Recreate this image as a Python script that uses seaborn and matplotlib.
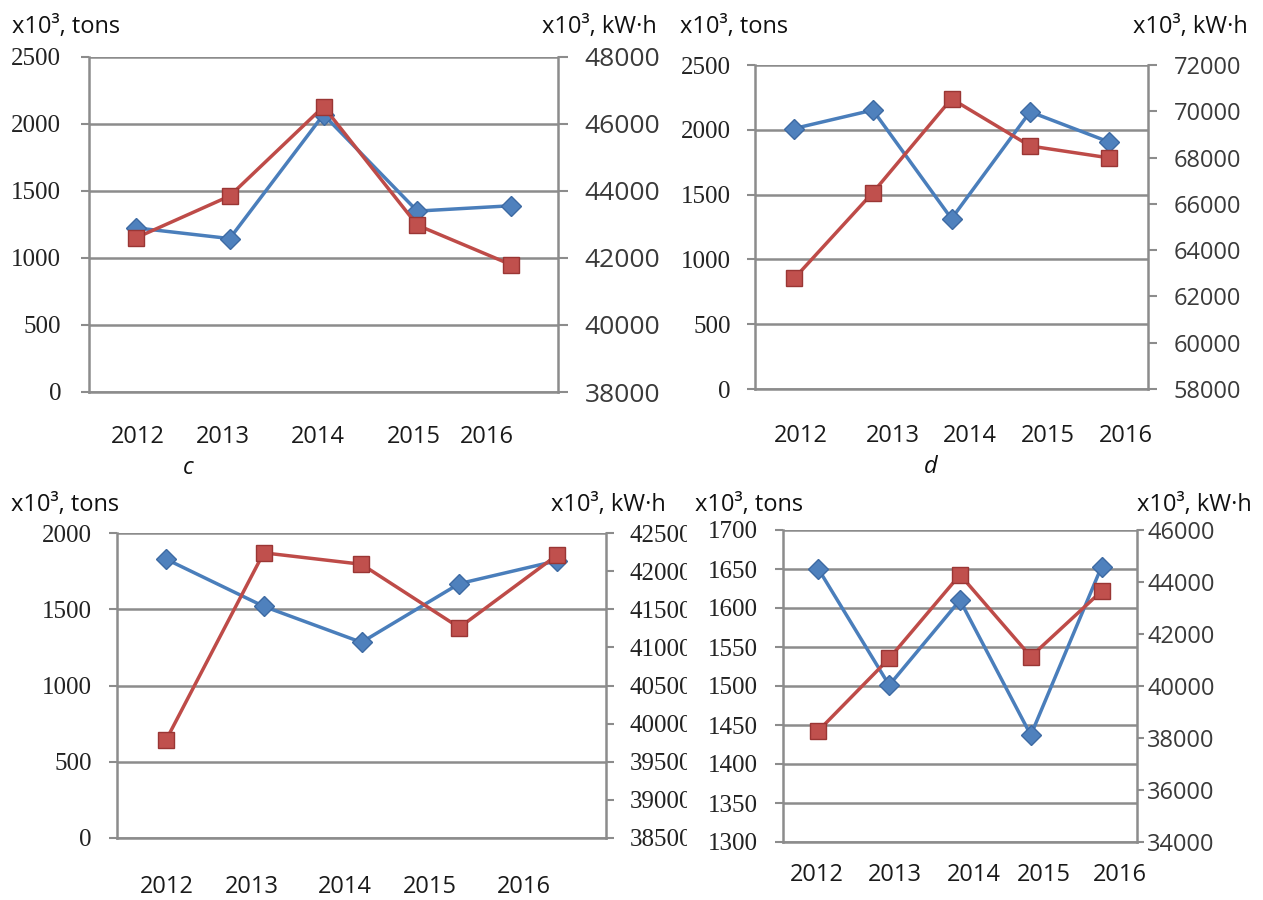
import matplotlib
matplotlib.use("Agg")
import matplotlib.pyplot as plt
import seaborn as sns
import pandas as pd
from matplotlib.transforms import Bbox, TransformedBbox

# ---------------- data ----------------
years = ["2012", "2013", "2014", "2015", "2016"]

a_tons = [1225, 1145, 2070, 1350, 1390]
a_kwh = [42600, 43850, 46520, 42980, 41800]

b_tons = [2010, 2152, 1314, 2139, 1907]
b_kwh = [62780, 66490, 70540, 68500, 67990]

c_tons = [1829, 1519, 1283, 1668, 1818]
c_kwh = [39780, 42240, 42090, 41260, 42210]

d_tons = [1650, 1501, 1610, 1437, 1653]
d_kwh = [38280, 41060, 44280, 41130, 43650]

left_title = "x10³, tons"
right_title = "x10³, kW·h"

# ---------------- style ----------------
sns.set_theme(style="white")
plt.rcParams["font.family"] = ["Open Sans", "DejaVu Sans"]

W, H = 1263, 900
fig = plt.figure(figsize=(W / 100, H / 100), dpi=100)
fig.patch.set_facecolor("white")

GRID = "#8c8c8c"
BLUE_LINE = "#4a7ebb"
BLUE_FACE = "#4f81bd"
BLUE_EDGE = "#3d6aa3"
RED_LINE = "#be4b48"
RED_FACE = "#c0504d"
RED_EDGE = "#9a3634"


def rect(l, r, t, b):
    return [l / W, 1 - b / H, (r - l) / W, (b - t) / H]


panels = [
    dict(tons=a_tons, kwh=a_kwh, box=(89, 558, 57, 392),
         left=(0, 2500, 500), right=(38000, 48000, 2000),
         xlab=[0.52, 1.43, 2.44, 3.46, 4.24], xpad=21.8,
         lpad=13.5, rpad=12, rlen=7, rsize=19, rserif=False,
         hl=(12, 27), hr=(657, 27)),
    dict(tons=b_tons, kwh=b_kwh, box=(755, 1148, 65, 389),
         left=(0, 2500, 500), right=(58000, 72000, 2000),
         xlab=[0.58, 1.76, 2.74, 3.72, 4.72], xpad=23,
         lpad=11, rpad=12, rlen=6.5, rsize=17, rserif=False,
         hl=(680, 27), hr=(1248, 27)),
    dict(tons=c_tons, kwh=c_kwh, box=(117, 606, 533, 838),
         left=(0, 2000, 500), right=(38500, 42500, 500),
         xlab=[0.51, 1.38, 2.33, 3.20, 4.16], xpad=24.5,
         lpad=11.5, rpad=11.5, rlen=5.5, rsize=18, rserif=True, clip=687,
         hl=(11, 505), hr=(666, 505)),
    dict(tons=d_tons, kwh=d_kwh, box=(783, 1137, 530, 842),
         left=(1300, 1700, 50), right=(34000, 46000, 2000),
         xlab=[0.48, 1.58, 2.69, 3.69, 4.76], xpad=13,
         lpad=11.5, rpad=2.5, rlen=5, rsize=17, rserif=False,
         hl=(695, 505), hr=(1252, 505)),
]

xpos = [i + 0.5 for i in range(len(years))]

for p in panels:
    ax = fig.add_axes(rect(*p["box"]))
    ax2 = ax.twinx()

    df = pd.DataFrame({"x": xpos, "tons": p["tons"], "kwh": p["kwh"]})
    sns.lineplot(data=df, x="x", y="tons", ax=ax, color=BLUE_LINE, lw=2.5,
                 marker="D", markersize=10, markerfacecolor=BLUE_FACE,
                 markeredgecolor=BLUE_EDGE, markeredgewidth=1.0, zorder=3)
    sns.lineplot(data=df, x="x", y="kwh", ax=ax2, color=RED_LINE, lw=2.5,
                 marker="s", markersize=11.5, markerfacecolor=RED_FACE,
                 markeredgecolor=RED_EDGE, markeredgewidth=1.0, zorder=3)

    lo, hi, st = p["left"]
    lt = list(range(lo, hi + 1, st))
    ax.set_ylim(lo, hi)
    ax.set_yticks(lt)
    ax.set_yticklabels([str(v) for v in lt], fontfamily="Liberation Serif",
                       fontsize=18, color="#222222")
    ax.yaxis.grid(True, color=GRID, lw=1.8)
    ax.set_axisbelow(True)

    rlo, rhi, rst = p["right"]
    rt = list(range(rlo, rhi + 1, rst))
    ax2.set_ylim(rlo, rhi)
    ax2.set_yticks(rt)
    if p["rserif"]:
        ax2.set_yticklabels([str(v) for v in rt], fontfamily="Liberation Serif",
                            fontsize=p["rsize"], color="#222222")
    else:
        ax2.set_yticklabels([str(v) for v in rt], fontfamily="Open Sans",
                            fontsize=p["rsize"], color="#3a3a3a")

    ax.set_xlim(0, len(years))
    ax.set_xticks(range(len(years) + 1))
    ax.set_xticklabels([])
    ax.set_xticks(p["xlab"], minor=True)
    ax.set_xticklabels(years, minor=True, fontsize=17, color="#1a1a1a",
                       fontfamily="Open Sans")
    ax.tick_params(axis="x", which="major", direction="out", length=6,
                   width=1.5, color=GRID)
    ax.tick_params(axis="x", which="minor", length=0, pad=p["xpad"] + 2)
    ax.tick_params(axis="y", direction="out", length=5.5, width=1.5,
                   color=GRID, pad=p["lpad"] + 1)
    ax2.tick_params(axis="y", direction="out", length=p["rlen"], width=1.5,
                    color=GRID, pad=p["rpad"])

    for a_ in (ax, ax2):
        a_.set_xlabel("")
        a_.set_ylabel("")
        for s in a_.spines.values():
            s.set_visible(False)
    ax.spines["left"].set_visible(True)
    ax.spines["bottom"].set_visible(True)
    ax2.spines["right"].set_visible(True)
    for s in (ax.spines["left"], ax.spines["bottom"], ax2.spines["right"]):
        s.set_color(GRID)
        s.set_linewidth(1.8)

    if p.get("clip"):
        cb = TransformedBbox(Bbox([[0, 0], [p["clip"] / W, 1]]), fig.transFigure)
        for t in ax2.yaxis.get_major_ticks():
            t.label2.set_clip_box(cb)
            t.label2.set_clip_on(True)

    fig.text(p["hl"][0] / W, 1 - p["hl"][1] / H, left_title, ha="left",
             va="center", fontsize=17, color="#111111")
    fig.text(p["hr"][0] / W, 1 - p["hr"][1] / H, right_title, ha="right",
             va="center", fontsize=17, color="#111111")

fig.text(188 / W, 1 - 468 / H, "c", ha="center", va="center", fontsize=17,
         style="italic", color="#111111")
fig.text(931 / W, 1 - 467 / H, "d", ha="center", va="center", fontsize=17,
         style="italic", color="#111111")

fig.savefig("out.png", dpi=100, facecolor="white")
